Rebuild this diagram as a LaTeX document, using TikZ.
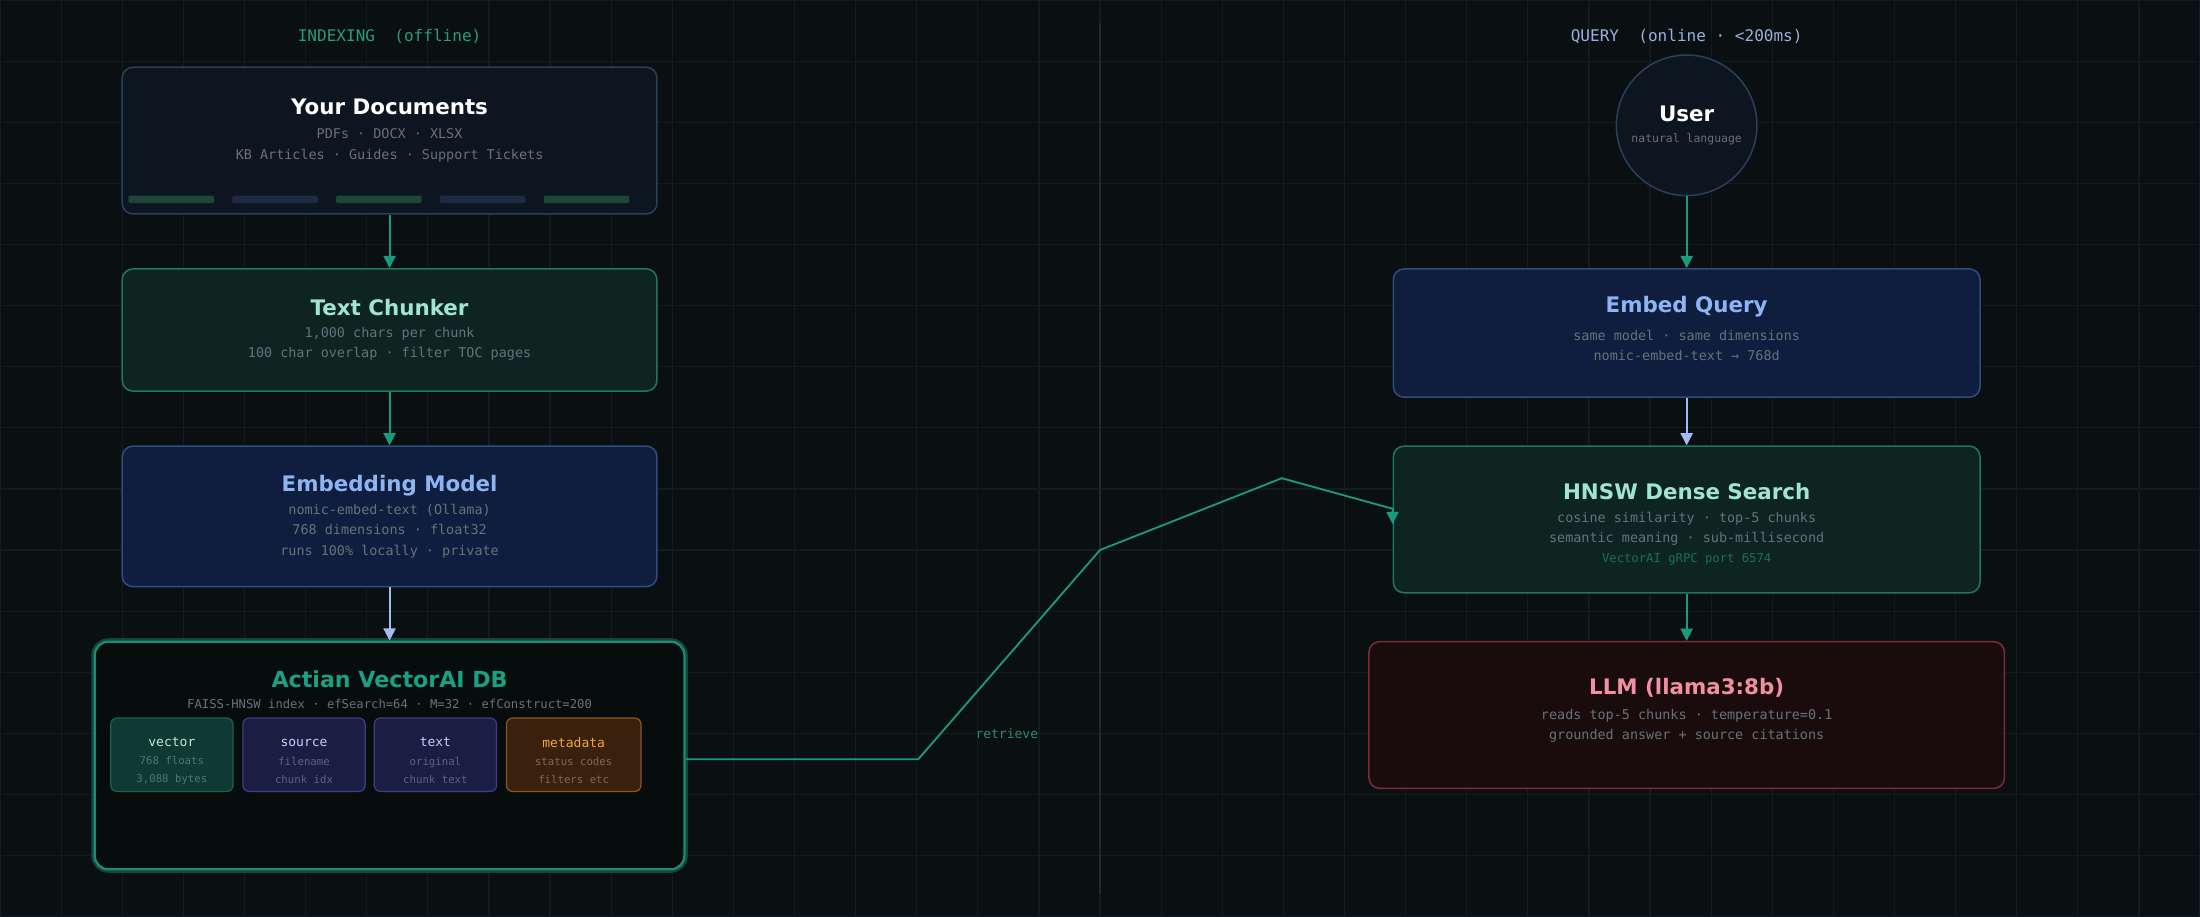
\documentclass[tikz,border=0pt]{standalone}
\usepackage{fontspec}
\setmainfont{DejaVu Sans}
\setmonofont{DejaVu Sans Mono}
\usetikzlibrary{arrows.meta}
\definecolor{bg}{HTML}{0A0F12}
\definecolor{gridc}{HTML}{121B1D}
\definecolor{divc}{HTML}{1E292B}
\definecolor{flowteal}{HTML}{1C9A7E}
\definecolor{flowblue}{HTML}{A3BAF2}
\definecolor{subgrey}{HTML}{66727C}
\definecolor{idxc}{HTML}{2A9C78}
\definecolor{qryc}{HTML}{9AB0DC}
\definecolor{docfill}{HTML}{0C1520}
\definecolor{docline}{HTML}{2A3F5A}
\definecolor{stripg}{HTML}{1E4636}
\definecolor{stripb}{HTML}{1D2A40}
\definecolor{chkfill}{HTML}{0E2421}
\definecolor{chkline}{HTML}{1F7560}
\definecolor{chktext}{HTML}{9FE5CF}
\definecolor{embfill}{HTML}{0F1E3E}
\definecolor{embline}{HTML}{2D4C80}
\definecolor{embtext}{HTML}{8DB4F3}
\definecolor{dbfill}{HTML}{070D0C}
\definecolor{dbline}{HTML}{1E8C72}
\definecolor{dbtext}{HTML}{1AA084}
\definecolor{vecfill}{HTML}{0F3A34}
\definecolor{vecline}{HTML}{1E5F52}
\definecolor{vectext}{HTML}{B8EADF}
\definecolor{vecsub}{HTML}{4E776D}
\definecolor{srcfill}{HTML}{1B1E44}
\definecolor{srcline}{HTML}{3B4080}
\definecolor{srctext}{HTML}{C9CCF5}
\definecolor{srcsub}{HTML}{5E6188}
\definecolor{metfill}{HTML}{3A210D}
\definecolor{metline}{HTML}{8C5524}
\definecolor{mettext}{HTML}{F0A440}
\definecolor{metsub}{HTML}{7E6A50}
\definecolor{portc}{HTML}{1C6E57}
\definecolor{llmfill}{HTML}{1A0C0D}
\definecolor{llmline}{HTML}{7C2B31}
\definecolor{llmtext}{HTML}{F090A2}
\definecolor{retc}{HTML}{2A8A72}

\begin{document}
\begin{tikzpicture}[
        x=1pt, y=-1pt,
        >={Triangle[length=8pt,width=8pt]},
        box/.style={rectangle,rounded corners=7pt,line width=1pt,inner sep=0pt},
        fld/.style={rectangle,rounded corners=4pt,line width=0.8pt,minimum width=80pt,minimum height=48pt},
        ttl/.style={font=\bfseries\fontsize{14}{16}\selectfont},
        sub/.style={font=\ttfamily\fontsize{8.8}{13.5}\selectfont,text=subgrey,align=center},
        fttl/.style={font=\ttfamily\fontsize{8.5}{10}\selectfont},
        fsub/.style={font=\ttfamily\fontsize{7}{12}\selectfont,align=center},
        head/.style={font=\ttfamily\fontsize{10.5}{12}\selectfont},
        every edge/.style={draw=flowteal,line width=1.2pt},
    ]
    \useasboundingbox (0,0) rectangle (1440,600);
    \fill[bg] (0,0) rectangle (1440,600);
    \draw[gridc,line width=0.8pt,step=40pt] (0,0) grid (1440,600);
    \draw[divc,line width=1pt] (720,15) -- (720,585);

    \node[head,text=idxc] (idx) at (255,24) {INDEXING\ \ (offline)};
    \node[head,text=qryc] (qry) at (1104,24) {QUERY\ \ (online · <200ms)};

    \node[box,fill=docfill,draw=docline,minimum width=350pt,minimum height=96pt] (docs) at (255,92) {};
    \node[box,fill=chkfill,draw=chkline,minimum width=350pt,minimum height=80pt] (chunk) at (255,216) {}
                edge [<-] (docs);
    \node[box,fill=embfill,draw=embline,minimum width=350pt,minimum height=92pt] (embed) at (255,338) {}
                edge [<-] (chunk);
    \node[box,fill=dbfill,draw=dbline,line width=1.5pt,rounded corners=9pt,
          preaction={draw=dbline!45!bg,line width=4.5pt},
          minimum width=386pt,minimum height=149pt] (db) at (255,494.5) {}
                edge [<-,draw=flowblue] (embed);

    \node[circle,fill=docfill,draw=docline,line width=1pt,minimum size=92pt] (user) at (1104,82) {};
    \node[box,fill=embfill,draw=embline,minimum width=384pt,minimum height=84pt] (query) at (1104,218) {}
                edge [<-] (user);
    \node[box,fill=chkfill,draw=chkline,minimum width=384pt,minimum height=96pt] (hnsw) at (1104,340) {}
                edge [<-,draw=flowblue] (query);
    \node[box,fill=llmfill,draw=llmline,minimum width=416pt,minimum height=96pt] (llm) at (1104,468) {}
                edge [<-] (hnsw);

    \foreach \i/\c in {0/stripg,1/stripb,2/stripg,3/stripb,4/stripg}
        \fill[\c,rounded corners=1pt] (84+68*\i,128) rectangle ++(56,5);

    \coordinate (k1) at (601,497);
    \coordinate (k2) at (720,360);
    \coordinate (k3) at (839,313);
    \draw[flowteal,line width=1.2pt,->] ([yshift=-2.5pt]db.east) -- (k1) -- (k2) -- (k3)
        -- ([yshift=7pt]hnsw.west) -- ([yshift=-3pt]hnsw.west);
    \node[font=\ttfamily\fontsize{8.5}{10}\selectfont,text=retc] (ret) at (659,480) {retrieve};

    \node[ttl,text=white] (docsT) at (255,70) {Your Documents};
    \node[sub] (docsS) at (255,95) {PDFs · DOCX · XLSX\\KB Articles · Guides · Support Tickets};
    \node[ttl,text=chktext] (chunkT) at (255,201) {Text Chunker};
    \node[sub] (chunkS) at (255,225) {1,000 chars per chunk\\100 char overlap · filter TOC pages};
    \node[ttl,text=embtext] (embedT) at (255,318) {Embedding Model};
    \node[sub] (embedS) at (255,347.5) {nomic-embed-text (Ollama)\\768 dimensions · float32\\runs 100\% locally · private};
    \node[ttl,text=dbtext,font=\bfseries\fontsize{14.5}{16}\selectfont] (dbT) at (255,444.5) {Actian VectorAI DB};
    \node[sub,font=\ttfamily\fontsize{8}{10}\selectfont] (dbS) at (255,461) {FAISS-HNSW index · efSearch=64 · M=32 · efConstruct=200};

    \node[fld,fill=vecfill,draw=vecline] (vec) at (112.5,494) {};
    \node[fld,fill=srcfill,draw=srcline] (src) at (199,494) {};
    \node[fld,fill=srcfill,draw=srcline] (txt) at (285,494) {};
    \node[fld,fill=metfill,draw=metline,minimum width=88pt] (meta) at (375.5,494) {};
    \node[fttl,text=vectext] at (112.5,486) {vector};
    \node[fsub,text=vecsub] at (112.5,504.5) {768 floats\\3,088 bytes};
    \node[fttl,text=srctext] at (199,486) {source};
    \node[fsub,text=srcsub] at (199,504.5) {filename\\chunk idx};
    \node[fttl,text=srctext] at (285,486) {text};
    \node[fsub,text=srcsub] at (285,504.5) {original\\chunk text};
    \node[fttl,text=mettext] at (375.5,486) {metadata};
    \node[fsub,text=metsub] at (375.5,504.5) {status codes\\filters etc};

    \node[ttl,text=white] (userT) at (1104,74.5) {User};
    \node[sub,font=\ttfamily\fontsize{7.5}{9}\selectfont] (userS) at (1104,91) {natural language};
    \node[ttl,text=embtext] (queryT) at (1104,201) {Embed Query};
    \node[sub] (queryS) at (1104,226) {same model · same dimensions\\nomic-embed-text → 768d};
    \node[ttl,text=chktext] (hnswT) at (1104,321.5) {HNSW Dense Search};
    \node[sub] (hnswS) at (1104,346) {cosine similarity · top-5 chunks\\semantic meaning · sub-millisecond};
    \node[font=\ttfamily\fontsize{8}{10}\selectfont,text=portc] (port) at (1104,366) {VectorAI gRPC port 6574};
    \node[ttl,text=llmtext] (llmT) at (1104,450) {LLM (llama3:8b)};
    \node[sub] (llmS) at (1104,475) {reads top-5 chunks · temperature=0.1\\grounded answer + source citations};
\end{tikzpicture}
\end{document}
